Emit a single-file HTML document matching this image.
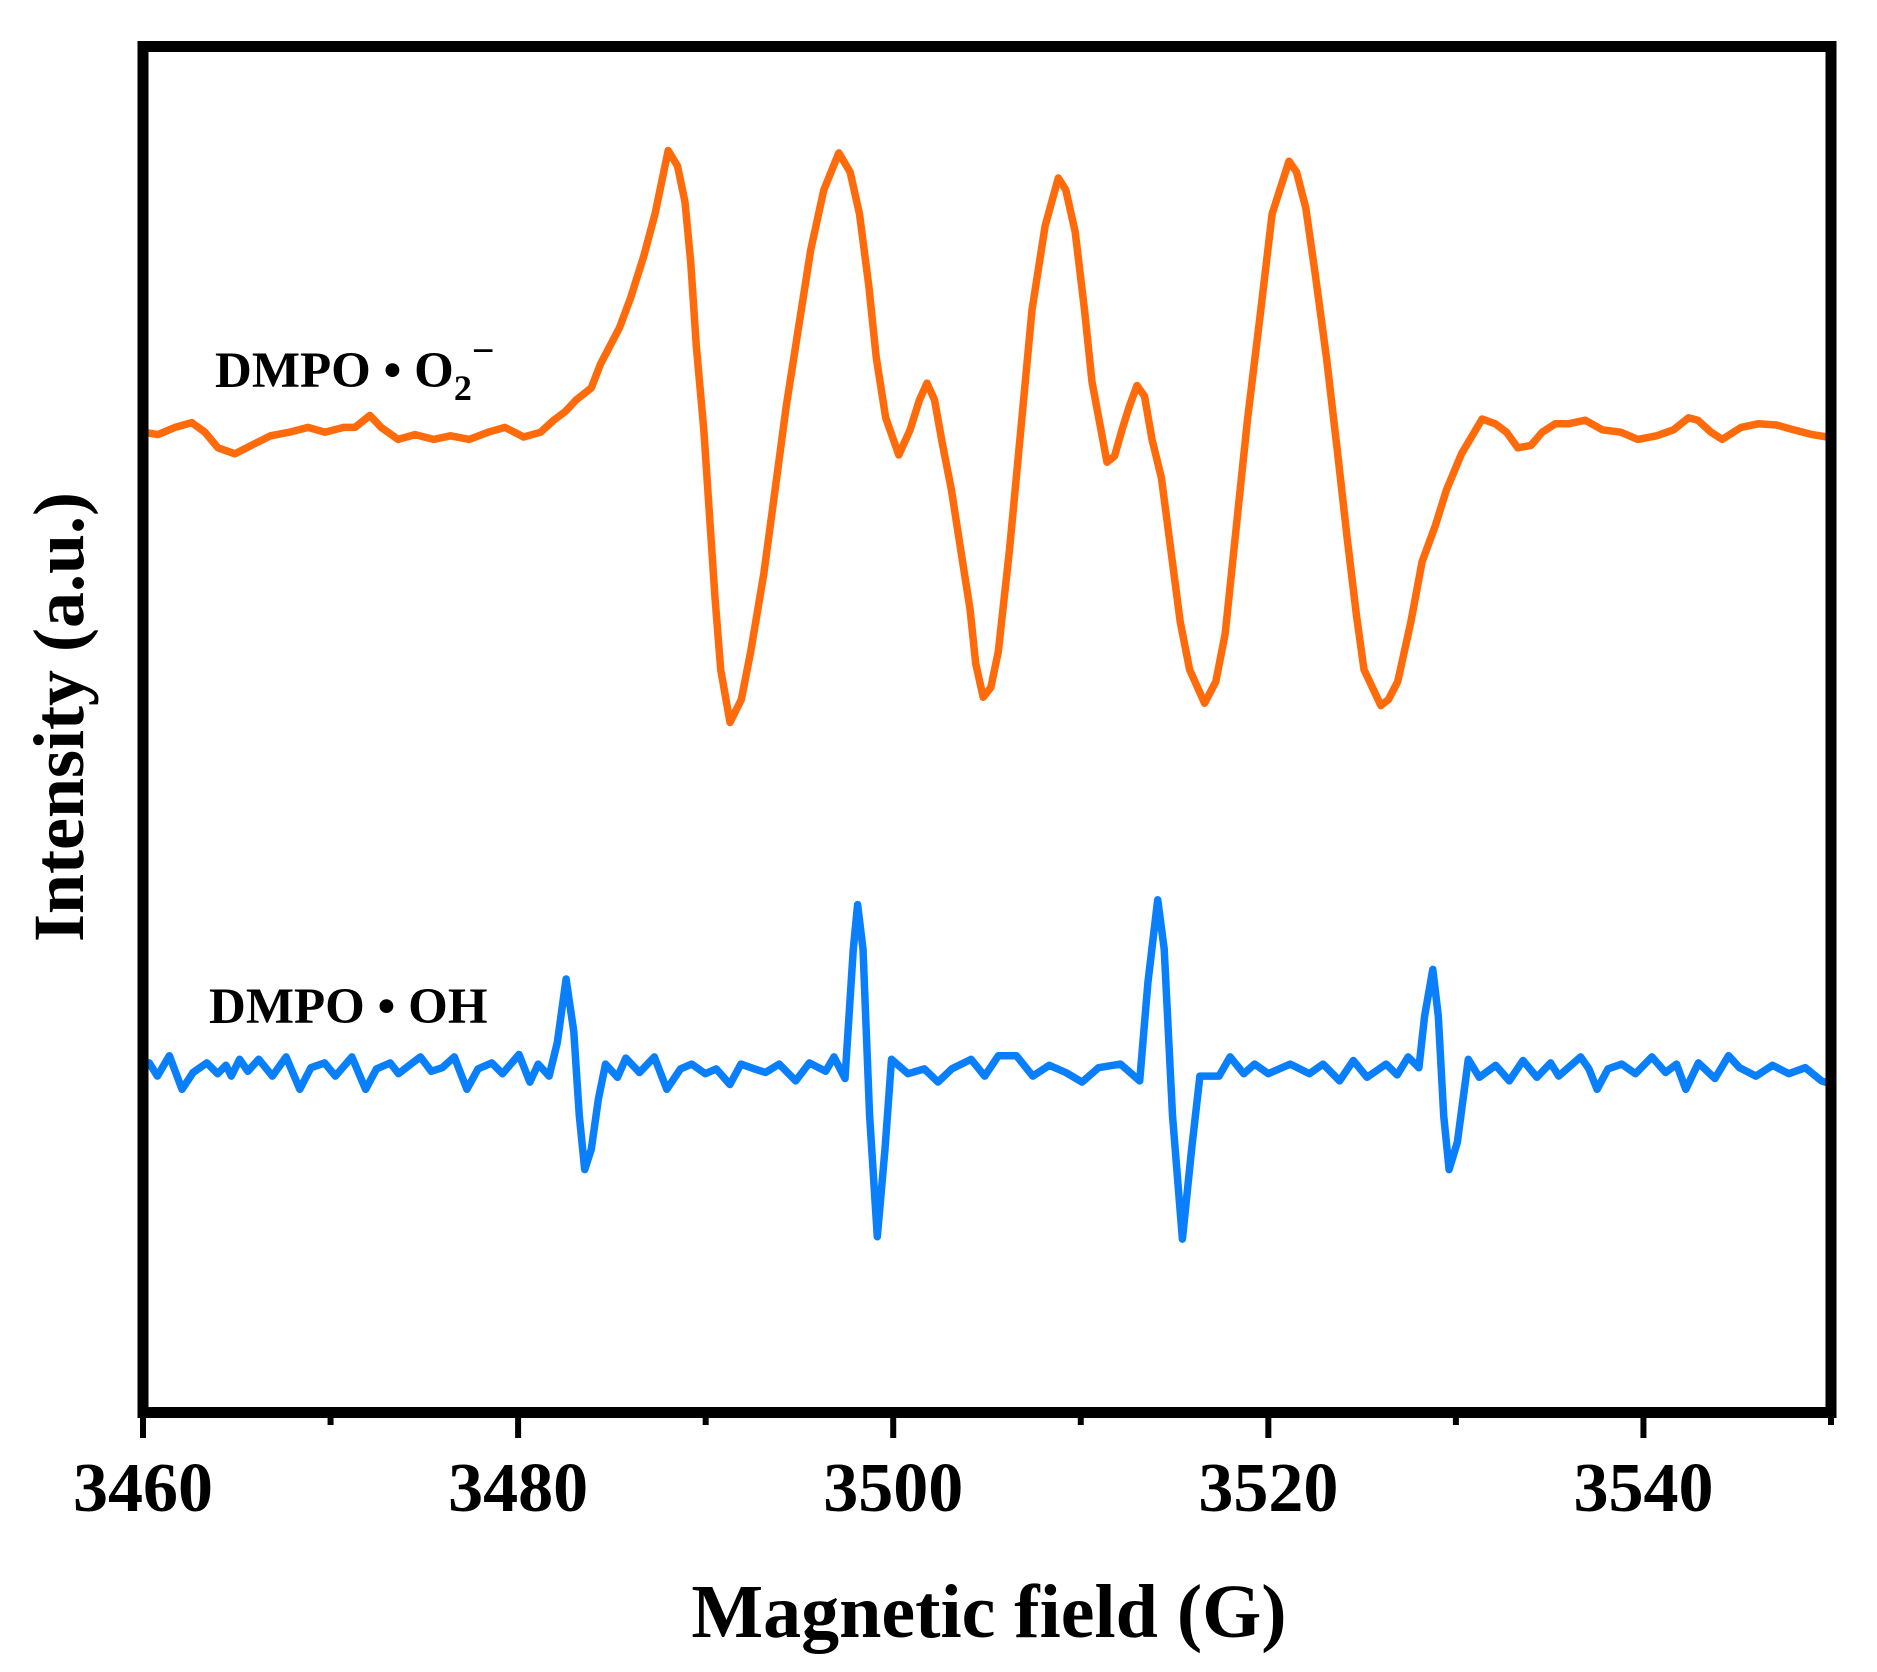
<!DOCTYPE html>
<html><head><meta charset="utf-8"><style>
html,body{margin:0;padding:0;background:#fff;}
svg{display:block;}
text{font-family:"Liberation Serif",serif;font-weight:bold;fill:#000;}
</style></head><body>
<svg id="chart" width="1877" height="1672" viewBox="0 0 1877 1672" xmlns="http://www.w3.org/2000/svg">
<g id="plot"></g>
<g id="xaxis"></g>
<rect x="143" y="46.5" width="1688" height="1366" fill="none" stroke="#000" stroke-width="11"/>
<text x="989" y="1637" font-size="76" text-anchor="middle">Magnetic field (G)</text>
<text transform="translate(83,717) rotate(-90)" font-size="72" text-anchor="middle">Intensity (a.u.)</text>
<text x="215" y="387" font-size="51">DMPO • O<tspan font-size="36" dy="13">2</tspan><tspan font-size="40" dy="-36">−</tspan></text>
<text x="209" y="1023" font-size="51">DMPO • OH</text>
</svg>
<script>
const xTicks = [3460, 3480, 3500, 3520, 3540];
const xMinorTicks = [3470, 3490, 3510, 3530, 3550];
const o2Field = [3460.0,3460.8,3461.7,3462.6,3463.3,3464.0,3464.9,3465.9,3466.8,3467.8,3468.8,3469.7,3470.7,3471.3,3472.1,3472.7,3473.6,3474.5,3475.5,3476.4,3477.4,3478.4,3479.3,3480.3,3481.2,3481.9,3482.5,3483.1,3483.9,3484.4,3484.9,3485.4,3486.0,3486.7,3487.3,3488.0,3488.5,3488.9,3489.2,3489.5,3489.9,3490.2,3490.5,3490.8,3491.3,3491.9,3492.4,3493.1,3493.7,3494.3,3495.0,3495.6,3496.3,3497.1,3497.7,3498.2,3498.7,3499.1,3499.6,3500.3,3500.9,3501.4,3501.8,3502.2,3502.6,3503.1,3503.6,3504.1,3504.4,3504.8,3505.2,3505.6,3506.2,3506.8,3507.4,3508.1,3508.8,3509.2,3509.7,3510.2,3510.6,3511.4,3511.8,3512.2,3512.6,3513.0,3513.4,3513.8,3514.3,3514.8,3515.3,3515.8,3516.6,3517.2,3517.7,3518.3,3518.9,3519.6,3520.2,3521.1,3521.5,3522.0,3522.5,3523.1,3523.7,3524.2,3524.7,3525.1,3526.0,3526.4,3526.9,3527.6,3528.2,3528.9,3529.5,3530.3,3531.4,3532.1,3532.7,3533.3,3534.0,3534.6,3535.3,3536.0,3536.9,3537.8,3538.8,3539.7,3540.7,3541.6,3542.4,3542.9,3543.6,3544.2,3545.2,3546.1,3547.1,3548.0,3549.0,3549.8];
const o2Intensity = [818,816,822,826,818,805,800,808,815,818,822,818,822,822,832,822,812,816,812,815,812,818,822,814,818,828,835,845,855,875,890,905,930,965,1000,1053,1040,1010,960,890,820,750,680,620,576,595,635,700,770,840,910,970,1020,1051,1035,1000,940,880,830,799,820,845,859,845,810,770,720,670,625,597,605,635,720,820,920,990,1030,1020,985,920,860,793,798,820,840,857,848,812,780,720,660,620,592,610,650,740,830,920,1000,1044,1035,1005,950,880,800,730,665,620,590,595,610,660,710,740,770,800,829,825,818,805,807,818,825,825,828,820,818,812,815,820,830,828,818,812,822,825,824,820,816,814];
const ohField = [3460.0,3460.33,3460.77,3461.41,3462.08,3462.67,3463.40,3463.98,3464.42,3464.71,3465.15,3465.59,3466.17,3466.90,3467.63,3468.36,3468.95,3469.68,3470.26,3471.14,3471.87,3472.45,3473.18,3473.62,3474.20,3474.79,3475.37,3475.96,3476.60,3477.27,3477.86,3478.59,3479.17,3480.05,3480.63,3481.07,3481.65,3482.09,3482.56,3482.97,3483.26,3483.55,3483.90,3484.28,3484.66,3485.30,3485.74,3486.47,3487.26,3487.93,3488.66,3489.25,3489.98,3490.56,3491.29,3491.88,3492.61,3493.19,3493.92,3494.80,3495.53,3496.40,3496.84,3497.43,3497.87,3498.10,3498.39,3498.74,3499.15,3499.56,3499.91,3500.79,3501.66,3502.39,3503.12,3504.15,3504.88,3505.61,3506.57,3507.44,3508.32,3509.20,3510.07,3510.95,3512.12,3513.14,3513.58,3514.10,3514.45,3514.89,3515.42,3515.91,3516.35,3517.37,3517.96,3518.69,3519.27,3520.00,3521.17,3522.19,3522.92,3523.80,3524.53,3525.26,3526.28,3526.87,3527.45,3528.03,3528.33,3528.77,3529.06,3529.35,3529.64,3530.08,3530.66,3531.25,3532.12,3532.85,3533.58,3534.32,3535.05,3535.48,3536.65,3537.09,3537.53,3538.11,3538.84,3539.57,3540.45,3541.18,3541.76,3542.26,3542.93,3543.81,3544.54,3545.12,3546.00,3546.88,3547.75,3548.63,3549.50,3549.9];
const ohIntensity = [288,292,281,298,270,284,292,283,290,281,295,285,295,281,297,270,288,292,281,297,270,287,292,283,290,297,285,288,297,270,287,292,283,299,276,291,281,309,362,318,248,203,220,262,291,280,296,284,297,270,287,291,283,287,274,291,287,284,291,277,292,285,297,279,387,424,387,248,147,220,295,283,287,276,287,295,281,298,298,281,290,284,276,288,291,277,359,428,387,248,145,220,281,281,297,283,291,283,291,283,291,277,294,280,291,282,297,288,331,370,331,248,203,226,295,280,290,277,294,280,292,281,297,287,270,287,291,283,297,284,291,270,292,279,298,288,281,290,283,288,277,275];

const NS = "http://www.w3.org/2000/svg";
const X0 = 143, X1 = 1831, Y0 = 1413, YS = 1.199;
function xScale(g){ return X0 + (g - 3460) / 90 * (X1 - X0); }
function yScale(v){ return Y0 - v * YS; }

const plot = document.getElementById('plot');
function drawSeries(fields, vals, color, name){
  let d = '';
  for (let i = 0; i < fields.length; i++) {
    d += (i ? 'L' : 'M') + xScale(fields[i]).toFixed(1) + ' ' + yScale(vals[i]).toFixed(1);
  }
  const p = document.createElementNS(NS, 'path');
  p.setAttribute('d', d);
  p.setAttribute('fill', 'none');
  p.setAttribute('stroke', color);
  p.setAttribute('stroke-width', '7.5');
  p.setAttribute('stroke-linejoin', 'round');
  p.setAttribute('stroke-linecap', 'round');
  
  
  plot.appendChild(p);
}
drawSeries(o2Field, o2Intensity, '#ff6a0a', 'series-dmpo-o2');
drawSeries(ohField, ohIntensity, '#0a7ffc', 'series-dmpo-oh');

const xa = document.getElementById('xaxis');
xTicks.forEach(t => {
  const l = document.createElementNS(NS, 'line');
  l.setAttribute('x1', xScale(t)); l.setAttribute('x2', xScale(t));
  l.setAttribute('y1', 1413); l.setAttribute('y2', 1438);
  l.setAttribute('stroke', '#000'); l.setAttribute('stroke-width', '6');
  
  
  xa.appendChild(l);
  const tx = document.createElementNS(NS, 'text');
  tx.setAttribute('x', xScale(t)); tx.setAttribute('y', 1511);
  tx.setAttribute('font-size', '70'); tx.setAttribute('text-anchor', 'middle');
  tx.textContent = t;
  
  
  xa.appendChild(tx);
});
xMinorTicks.forEach(t => {
  const l = document.createElementNS(NS, 'line');
  l.setAttribute('x1', xScale(t)); l.setAttribute('x2', xScale(t));
  l.setAttribute('y1', 1413); l.setAttribute('y2', 1425);
  l.setAttribute('stroke', '#000'); l.setAttribute('stroke-width', '6');
  
  
  xa.appendChild(l);
});
</script>
</body></html>
